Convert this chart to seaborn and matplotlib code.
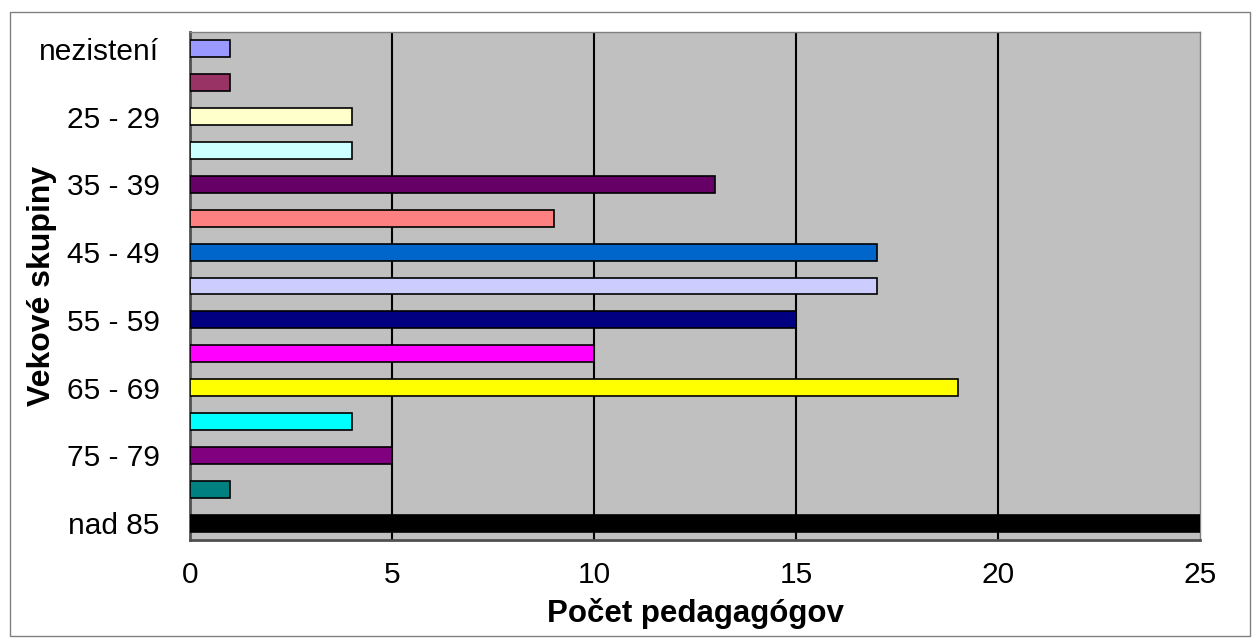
import numpy as np
import pandas as pd
import matplotlib
matplotlib.use("Agg")
import matplotlib.pyplot as plt
import seaborn as sns
from matplotlib.patches import Rectangle

# age groups, top to bottom
skupiny = ["nezistení", "20 - 24", "25 - 29", "30 - 34", "35 - 39", "40 - 44",
           "45 - 49", "50 - 54", "55 - 59", "60 - 64", "65 - 69", "70 - 74",
           "75 - 79", "80 - 84", "nad 85"]
pocty = [1, 1, 4, 4, 13, 9, 17, 17, 15, 10, 19, 4, 5, 1, 25]
farby = ["#9999FF", "#993366", "#FFFFCC", "#CCFFFF", "#660066", "#FF8080",
         "#0066CC", "#CCCCFF", "#000080", "#FF00FF", "#FFFF00", "#00FFFF",
         "#800080", "#008080", "#000000"]
x_ticks = [0, 5, 10, 15, 20, 25]

df = pd.DataFrame({"skupina": skupiny, "pocet": pocty})

sns.set_style("white")
plt.rcParams["font.family"] = ["Liberation Sans", "DejaVu Sans"]
plt.rcParams["text.color"] = "black"
plt.rcParams["axes.labelcolor"] = "black"
plt.rcParams["xtick.color"] = "black"
plt.rcParams["ytick.color"] = "black"

fig = plt.figure(figsize=(12.52, 6.38), dpi=100)
ax = fig.add_axes([190 / 1252, 1 - 540 / 638, 1010 / 1252, 508 / 638])
ax.set_facecolor("#C0C0C0")

# outer frame of the chart
fig.patches.append(Rectangle((10 / 1252, 2 / 638), 1240 / 1252, 624 / 638,
                             transform=fig.transFigure, fill=False,
                             edgecolor="#808080", linewidth=1))

sns.barplot(data=df, y="skupina", x="pocet", hue="skupina", palette=farby,
            saturation=1, orient="h", width=0.5, edgecolor="black",
            linewidth=1.2, legend=False, ax=ax, zorder=3)

for v in x_ticks[1:-1]:
    ax.axvline(v, color="black", linewidth=1.5, zorder=1)

ax.set_xlim(0, 25)
ax.set_ylim(len(skupiny) - 0.5, -0.5)
ax.set_xticks(x_ticks)
ax.set_xticklabels([str(t) for t in x_ticks], fontsize=21.5)

# only every other label is shown
ax.set_yticks(range(0, len(skupiny), 2))
ax.set_yticklabels(skupiny[::2], fontsize=21.5)
ax.set_yticks(np.arange(-0.5, len(skupiny), 1), minor=True)
ax.tick_params(axis="y", which="major", length=0, pad=22)
ax.tick_params(axis="y", which="minor", length=7, color="black", width=1, direction="out")
ax.tick_params(axis="x", length=7, color="black", width=1, direction="out", pad=8)

for side in ["left", "bottom"]:
    ax.spines[side].set_color("#505050")
    ax.spines[side].set_linewidth(2)
for side in ["top", "right"]:
    ax.spines[side].set_color("#808080")
    ax.spines[side].set_linewidth(1)

ax.set_xlabel("Počet pedagagógov", fontsize=22.5, fontweight="bold")
ax.set_ylabel("Vekové skupiny", fontsize=23, fontweight="bold")
ax.xaxis.set_label_coords(0.5, -0.144)
ax.yaxis.set_label_coords(-0.147, 0.5)
ax.xaxis.label.set_verticalalignment("center")
ax.yaxis.label.set_verticalalignment("center")

fig.savefig("out.png", dpi=100)
